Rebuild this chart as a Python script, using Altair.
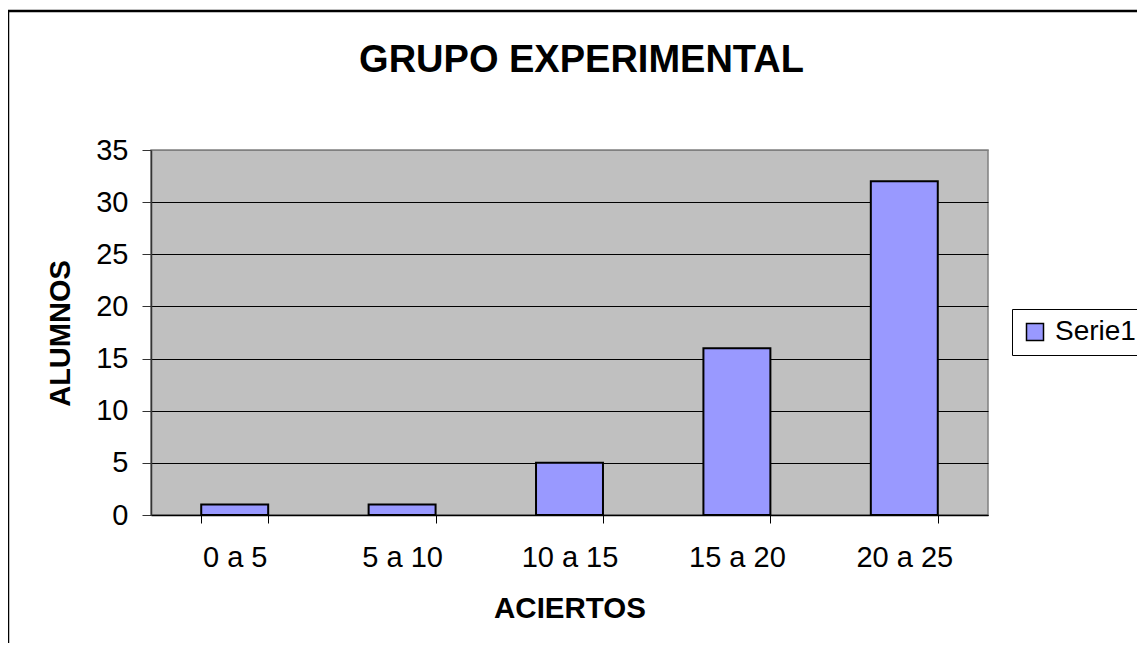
import altair as alt
import pandas as pd

categorias = ["0 a 5", "5 a 10", "10 a 15", "15 a 20", "20 a 25"]
alumnos = [1, 1, 5, 16, 32]
serie = ["Serie1"] * 5
y_ticks = [0, 5, 10, 15, 20, 25, 30, 35]
titulo = ["GRUPO EXPERIMENTAL"]

df = pd.DataFrame({"aciertos": categorias, "alumnos": alumnos, "serie": serie})
FONT = "Liberation Sans"

bars = alt.Chart(df).mark_bar(stroke="black", strokeWidth=2).encode(
    x=alt.X(
        "aciertos:N",
        sort=categorias,
        scale=alt.Scale(paddingInner=0.6, paddingOuter=0.3),
        axis=alt.Axis(
            title="ACIERTOS",
            titleFont=FONT, titleFontSize=29.5, titleFontWeight="bold", titleColor="black",
            titleBaseline="middle", titleY=93, titleX=418.5, titleAlign="center",
            labelFont=FONT, labelFontSize=29, labelColor="black", labelAngle=0,
            labelPadding=20, tickSize=8, tickColor="black", tickWidth=1,
            tickBand="extent", domainColor="black", domainWidth=1.5, grid=False,
        ),
    ),
    y=alt.Y(
        "alumnos:Q",
        scale=alt.Scale(domain=[0, 35], nice=False),
        axis=alt.Axis(
            title="ALUMNOS", values=y_ticks,
            titleFont=FONT, titleFontSize=29, titleFontWeight="bold", titleColor="black",
            titleBaseline="middle", titleX=-91, titleY=183, titleAlign="center", titleAngle=-90,
            labelFont=FONT, labelFontSize=29, labelColor="black", labelPadding=14,
            tickSize=9, tickColor="#333333", domainColor="#333333", domainWidth=1.5,
            grid=True,
            gridColor={"condition": {"test": "datum.value == 35", "value": "#808080"}, "value": "black"},
            gridWidth=1.2,
        ),
    ),
    fill=alt.Fill(
        "serie:N",
        scale=alt.Scale(domain=["Serie1"], range=["#9999FF"]),
        legend=alt.Legend(
            title=None, orient="none", legendX=861, legendY=159,
            symbolType="square", symbolSize=289, symbolStrokeColor="black",
            symbolStrokeWidth=1.5, symbolFillColor="#9999FF",
            labelFont=FONT, labelFontSize=28, labelColor="black", labelOffset=6,
            strokeColor="black", fillColor="white", padding=9, labelLimit=300,
        ),
    ),
)

border_df = pd.DataFrame({"b": [0]})
border = alt.Chart(border_df).mark_rect(filled=False, stroke="black", strokeWidth=2.5).encode(
    x=alt.value(-143), x2=alt.value(1200), y=alt.value(-139), y2=alt.value(900)
)

title_df = pd.DataFrame({"t": titulo})
title = alt.Chart(title_df).mark_text(
    font=FONT, fontSize=38, fontWeight="bold", color="black",
    align="center", baseline="alphabetic",
).encode(text="t:N", x=alt.value(430.5), y=alt.value(-78))

chart = alt.layer(border, bars, title).properties(
    width=837,
    height=365,
    padding={"left": 143, "top": 142, "right": 149, "bottom": 128},
    autosize=alt.AutoSizeParams(type="none"),
    background="white",
).configure_view(fill="#C0C0C0", stroke="#808080", strokeWidth=1.5)

chart.save("out.html", embed_options={"renderer": "svg", "actions": False})
